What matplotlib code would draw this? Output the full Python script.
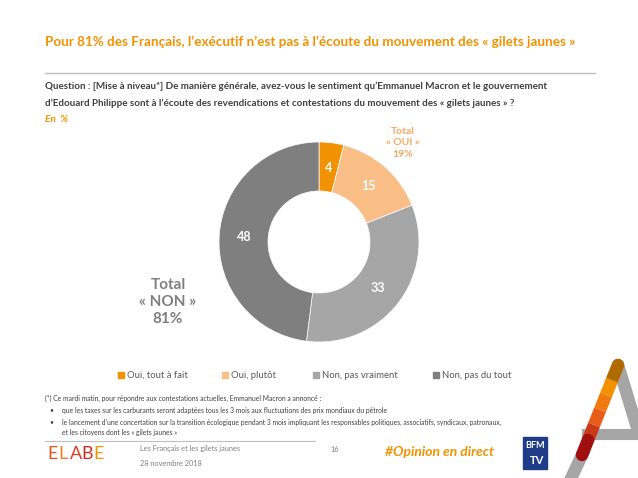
import matplotlib
matplotlib.use("Agg")
import matplotlib.pyplot as plt
from matplotlib.lines import Line2D
from matplotlib.patches import Rectangle

plt.rcParams['font.family'] = ['Lato', 'DejaVu Sans']

labels = ["Oui, tout à fait", "Oui, plutôt", "Non, pas vraiment", "Non, pas du tout"]
values = [4, 15, 33, 48]
colors = ["#F39200", "#F8BE86", "#A6A6A6", "#7F7F7F"]

total_oui = values[0] + values[1]
total_non = values[2] + values[3]

W, H = 638, 478
fig = plt.figure(figsize=(W / 100, H / 100), dpi=100)

def fx(x):
    return x / W

def fy(y):
    return 1 - y / H

orange = "#F39200"
dark = "#404040"

# header
fig.text(fx(45), fy(42), "Pour 81% des Français, l’exécutif n’est pas à l’écoute du mouvement des « gilets jaunes »",
         color=orange, fontsize=9.7, fontweight="bold", va="center")
fig.add_artist(Line2D([fx(45), fx(595)], [fy(73), fy(73)], color="#BFBFBF", lw=1))
fig.text(fx(45), fy(86), "Question : [Mise à niveau*] De manière générale, avez-vous le sentiment qu’Emmanuel Macron et le gouvernement",
         color=dark, fontsize=7.15, fontweight="bold", va="center")
fig.text(fx(45), fy(103), "d’Edouard Philippe sont à l’écoute des revendications et contestations du mouvement des « gilets jaunes » ?",
         color=dark, fontsize=7.15, fontweight="bold", va="center")
fig.text(fx(45), fy(120), "En  %", color=orange, fontsize=7.3, fontweight="bold", style="italic", va="center")

# donut
ax = fig.add_axes([fx(219), fy(342), 200 / W, 200 / H])
wedges, texts, autotexts = ax.pie(values, colors=colors, startangle=90, counterclock=False,
                                  radius=1, wedgeprops=dict(width=0.49, edgecolor="white", linewidth=0.5),
                                  autopct=lambda p: f"{p:.0f}", pctdistance=0.75)
for t in autotexts:
    t.set_color("white")
    t.set_fontsize(9)
    t.set_fontweight("bold")
ax.set_aspect("equal")
ax.set_xlim(-1, 1)
ax.set_ylim(-1, 1)

fig.text(fx(403), fy(143), f"Total\n« OUI »\n{total_oui}%", color="#F5A85E", fontsize=7.5,
         fontweight="bold", ha="center", va="center", linespacing=1.3)
fig.text(fx(168), fy(302), f"Total\n« NON »\n{total_non}%", color="#7F7F7F", fontsize=11,
         fontweight="bold", ha="center", va="center", linespacing=1.3)

# legend
leg_x = [121, 225, 316, 436]
for x, lab, c in zip(leg_x, labels, colors):
    fig.add_artist(Rectangle((fx(x - 3), fy(378)), 6 / W, 6 / H, color=c, transform=fig.transFigure))
    fig.text(fx(x + 6), fy(375), lab, color="#595959", fontsize=6.8, va="center")

# footnote
fs = 4.9
fig.text(fx(45), fy(398), "(*) Ce mardi matin, pour répondre aux contestations actuelles, Emmanuel Macron a annoncé :",
         color=dark, fontsize=fs, va="center")
fig.text(fx(49), fy(410), "•", color=dark, fontsize=fs, va="center")
fig.text(fx(62), fy(410), "que les taxes sur les carburants seront adaptées tous les 3 mois aux fluctuations des prix mondiaux du pétrole",
         color=dark, fontsize=fs, va="center")
fig.text(fx(49), fy(422), "•", color=dark, fontsize=fs, va="center")
fig.text(fx(62), fy(422), "le lancement d’une concertation sur la transition écologique pendant 3 mois impliquant les responsables politiques, associatifs, syndicaux, patronaux,",
         color=dark, fontsize=fs, va="center")
fig.text(fx(62), fy(433), "et les citoyens dont les « gilets jaunes »", color=dark, fontsize=fs, va="center")

# footer
fig.add_artist(Line2D([fx(45), fx(315)], [fy(441), fy(441)], color="#BFBFBF", lw=0.8))
elabe_cols = ["#E8501C", "#F08020", "#E63A1E", "#D8281E", "#F39200"]
for i, (ch, c) in enumerate(zip("ELABE", elabe_cols)):
    fig.text(fx(47 + i * 11.5), fy(454), ch, color=c, fontsize=13, va="center")
fig.text(fx(140), fy(448), "Les Français et les gilets jaunes", color="#7F7F7F", fontsize=5.3, va="center")
fig.text(fx(140), fy(463), "28 novembre 2018", color="#7F7F7F", fontsize=5.3, va="center")
fig.text(fx(335), fy(449), "16", color="#7F7F7F", fontsize=5.3, va="center", ha="center")
fig.text(fx(494), fy(452), "#Opinion en direct", color=orange, fontsize=10, fontweight="bold",
         style="italic", va="center", ha="right")

# BFM TV logo
fig.add_artist(Rectangle((fx(523), fy(469)), 24 / W, 32 / H, color="#1F3C88", transform=fig.transFigure))
fig.text(fx(535), fy(446), "BFM", color="white", fontsize=6.5, fontweight="bold", ha="center", va="center")
fig.text(fx(537), fy(461), "TV", color="white", fontsize=8, fontweight="bold", ha="center", va="center")

# decorative A
grey = "#A6A6A6"
fig.add_artist(Line2D([fx(618), fx(650)], [fy(365), fy(470)], color=grey, lw=9, solid_capstyle="round"))
fig.add_artist(Line2D([fx(587), fx(640)], [fy(434), fy(434)], color=grey, lw=8))
fig.add_artist(Line2D([fx(582), fx(568)], [fy(455), fy(485)], color=grey, lw=9))
grad = ["#B06A00", "#F39200", "#F07A10", "#E65C18", "#C83A18", "#A01010"]
n = len(grad)
x0, y0, x1, y1 = 618, 365, 582, 455
for i, c in enumerate(grad):
    a, b = i / n, (i + 1) / n
    fig.add_artist(Line2D([fx(x0 + (x1 - x0) * a), fx(x0 + (x1 - x0) * b)],
                          [fy(y0 + (y1 - y0) * a), fy(y0 + (y1 - y0) * b)],
                          color=c, lw=9, solid_capstyle="round" if i in (0, n - 1) else "butt"))

fig.savefig("out.png", dpi=100)
